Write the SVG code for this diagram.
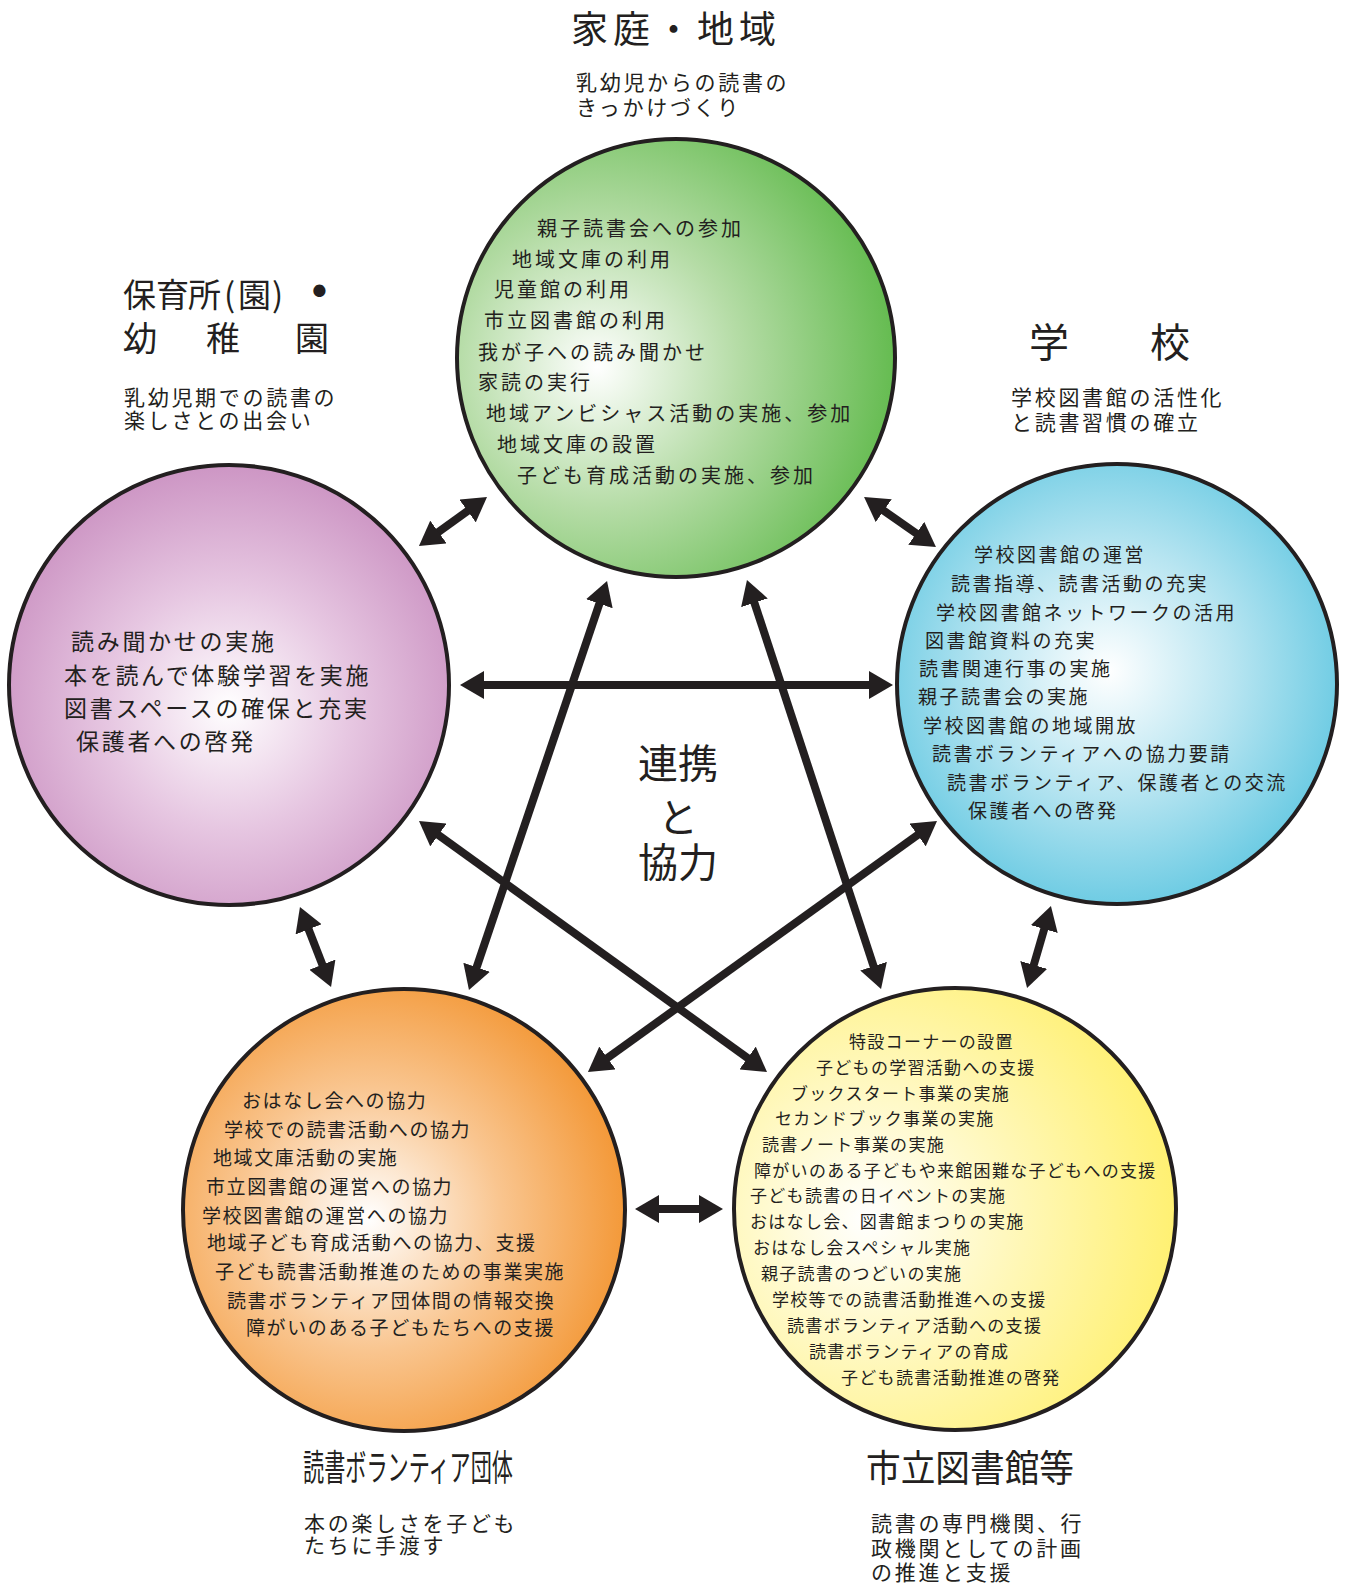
<svg xmlns="http://www.w3.org/2000/svg" width="1346" height="1585" viewBox="0 0 1346 1585">
<style>
text{font-family:"Noto Sans CJK JP","Noto Sans CJK SC",sans-serif;fill:#231f20}
.g{font-size:20px;letter-spacing:3px}
.p{font-size:23px;letter-spacing:2.7px}
.b{font-size:19px;letter-spacing:2.5px}
.o{font-size:19px;letter-spacing:1.6px}
.y{font-size:17px;letter-spacing:1.3px}
.sub{font-size:21px;letter-spacing:2.7px}
.circ{stroke:#231f20;stroke-width:4}
.arr{stroke:#231f20;stroke-width:8;fill:none;marker-start:url(#ah);marker-end:url(#ah)}
</style>
<defs>
<radialGradient id="gGreen" cx="0.32" cy="0.52" r="0.72"><stop offset="0" stop-color="#ffffff"/><stop offset="0.45" stop-color="#b5dca6"/><stop offset="1" stop-color="#5cb847"/></radialGradient>
<radialGradient id="gPurple" cx="0.5" cy="0.55" r="0.56"><stop offset="0" stop-color="#ffffff"/><stop offset="0.5" stop-color="#e6c6e1"/><stop offset="1" stop-color="#cc94c3"/></radialGradient>
<radialGradient id="gBlue" cx="0.48" cy="0.47" r="0.56"><stop offset="0" stop-color="#ffffff"/><stop offset="0.5" stop-color="#b8e5f1"/><stop offset="1" stop-color="#66c9e2"/></radialGradient>
<radialGradient id="gOrange" cx="0.42" cy="0.52" r="0.6"><stop offset="0" stop-color="#ffffff"/><stop offset="0.5" stop-color="#f9c58f"/><stop offset="1" stop-color="#f39633"/></radialGradient>
<radialGradient id="gYellow" cx="0.3" cy="0.52" r="0.72"><stop offset="0" stop-color="#ffffff"/><stop offset="0.5" stop-color="#fff7b5"/><stop offset="1" stop-color="#fff06e"/></radialGradient>
<marker id="ah" viewBox="0 0 24 28" refX="12" refY="14" markerWidth="24" markerHeight="28" markerUnits="userSpaceOnUse" orient="auto-start-reverse"><path d="M0,0 L24,14 L0,28 z" fill="#231f20"/></marker>
</defs>

<g id="node-home">
<text x="571" y="43" style="font-size:37px;letter-spacing:5px">家庭・地域</text>
<text class="sub" x="576" y="90">乳幼児からの読書の<tspan x="576" dy="25">きっかけづくり</tspan></text>
<circle class="circ" cx="676" cy="358" r="219" fill="url(#gGreen)"/>
<text class="g" x="537" y="236">親子読書会への参加</text>
<text class="g" x="512" y="267">地域文庫の利用</text>
<text class="g" x="494" y="297">児童館の利用</text>
<text class="g" x="484" y="328">市立図書館の利用</text>
<text class="g" x="478" y="360">我が子への読み聞かせ</text>
<text class="g" x="478" y="390">家読の実行</text>
<text class="g" x="486" y="421">地域アンビシャス活動の実施、参加</text>
<text class="g" x="497" y="452">地域文庫の設置</text>
<text class="g" x="517" y="483">子ども育成活動の実施、参加</text>
</g>

<g id="node-nursery">
<text x="123 156 188 224 238 272" y="307" style="font-size:33px">保育所(園)<tspan x="307" y="307" style="font-family:'DejaVu Sans',sans-serif;font-size:42px">•</tspan></text>
<text x="123 206 295" y="351" style="font-size:34px">幼稚園</text>
<text class="sub" x="124" y="405">乳幼児期での読書の<tspan x="124" dy="23">楽しさとの出会い</tspan></text>
<circle class="circ" cx="229" cy="685" r="220" fill="url(#gPurple)"/>
<text class="p" x="71" y="650">読み聞かせの実施</text>
<text class="p" x="64" y="684">本を読んで体験学習を実施</text>
<text class="p" x="64" y="717">図書スペースの確保と充実</text>
<text class="p" x="76" y="750">保護者への啓発</text>
</g>

<g id="node-school">
<text x="1029 1150" y="357" style="font-size:40px">学校</text>
<text class="sub" x="1011" y="405">学校図書館の活性化<tspan x="1011" dy="25">と読書習慣の確立</tspan></text>
<circle class="circ" cx="1117" cy="684" r="220" fill="url(#gBlue)"/>
<text class="b" x="974" y="562">学校図書館の運営</text>
<text class="b" x="951" y="591">読書指導、読書活動の充実</text>
<text class="b" x="936" y="620">学校図書館ネットワークの活用</text>
<text class="b" x="925" y="648">図書館資料の充実</text>
<text class="b" x="919" y="676">読書関連行事の実施</text>
<text class="b" x="918" y="704">親子読書会の実施</text>
<text class="b" x="923" y="733">学校図書館の地域開放</text>
<text class="b" x="932" y="761">読書ボランティアへの協力要請</text>
<text class="b" x="947" y="790">読書ボランティア、保護者との交流</text>
<text class="b" x="968" y="818">保護者への啓発</text>
</g>

<g id="node-volunteer">
<circle class="circ" cx="404" cy="1210" r="221" fill="url(#gOrange)"/>
<text class="o" x="242" y="1108">おはなし会への協力</text>
<text class="o" x="224" y="1137">学校での読書活動への協力</text>
<text class="o" x="213" y="1165">地域文庫活動の実施</text>
<text class="o" x="206" y="1194">市立図書館の運営への協力</text>
<text class="o" x="202" y="1223">学校図書館の運営への協力</text>
<text class="o" x="207" y="1250">地域子ども育成活動への協力、支援</text>
<text class="o" x="215" y="1279">子ども読書活動推進のための事業実施</text>
<text class="o" x="227" y="1308">読書ボランティア団体間の情報交換</text>
<text class="o" x="246" y="1335">障がいのある子どもたちへの支援</text>
<text x="303" y="1481" style="font-size:36px" textLength="210" lengthAdjust="spacingAndGlyphs">読書ボランティア団体</text>
<text class="sub" x="304" y="1531">本の楽しさを子ども<tspan x="304" dy="22">たちに手渡す</tspan></text>
</g>

<g id="node-library">
<circle class="circ" cx="955" cy="1209" r="221" fill="url(#gYellow)"/>
<text class="y" x="849" y="1048">特設コーナーの設置</text>
<text class="y" x="816" y="1074">子どもの学習活動への支援</text>
<text class="y" x="791" y="1100">ブックスタート事業の実施</text>
<text class="y" x="775" y="1125">セカンドブック事業の実施</text>
<text class="y" x="762" y="1151">読書ノート事業の実施</text>
<text class="y" x="754" y="1177">障がいのある子どもや来館困難な子どもへの支援</text>
<text class="y" x="750" y="1202">子ども読書の日イベントの実施</text>
<text class="y" x="750" y="1228">おはなし会、図書館まつりの実施</text>
<text class="y" x="753" y="1254">おはなし会スペシャル実施</text>
<text class="y" x="761" y="1280">親子読書のつどいの実施</text>
<text class="y" x="772" y="1306">学校等での読書活動推進への支援</text>
<text class="y" x="787" y="1332">読書ボランティア活動への支援</text>
<text class="y" x="809" y="1358">読書ボランティアの育成</text>
<text class="y" x="841" y="1384">子ども読書活動推進の啓発</text>
<text x="866" y="1482" style="font-size:37px" textLength="208" lengthAdjust="spacingAndGlyphs">市立図書館等</text>
<text class="sub" x="871" y="1531">読書の専門機関、行<tspan x="871" dy="25">政機関としての計画</tspan><tspan x="871" dy="24">の推進と支援</tspan></text>
</g>

<g id="center-label" style="font-size:40px" text-anchor="middle">
<text x="678" y="778">連携<tspan x="678" dy="54">と</tspan><tspan x="678" dy="45">協力</tspan></text>
</g>

<g id="connectors">
<line class="arr" x1="428.7" y1="539" x2="477.3" y2="504"/>
<line class="arr" x1="873.9" y1="503.8" x2="926.1" y2="540.2"/>
<line class="arr" x1="472" y1="685" x2="881" y2="685"/>
<line class="arr" x1="603.2" y1="592.4" x2="472.8" y2="978.6"/>
<line class="arr" x1="750.7" y1="591.4" x2="877.3" y2="977.6"/>
<line class="arr" x1="428.7" y1="828" x2="757.3" y2="1065"/>
<line class="arr" x1="927.3" y1="828" x2="597.7" y2="1065"/>
<line class="arr" x1="304.3" y1="918.2" x2="326.7" y2="975.8"/>
<line class="arr" x1="1047.6" y1="917.5" x2="1030.4" y2="976.5"/>
<line class="arr" x1="647" y1="1209" x2="711" y2="1209"/>
</g>
</svg>
